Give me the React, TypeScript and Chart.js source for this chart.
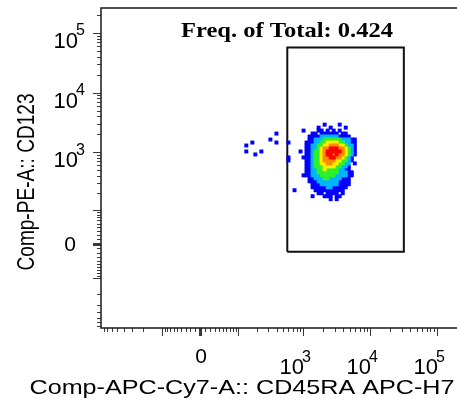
import { useEffect, useRef } from "react";
import { Chart, registerables } from "chart.js";

Chart.register(...registerables);

// Biexponential-style display transform (decades), shared by both axes.
const SCALE_C = 58;
const toDisplay = (v: number) => Math.asinh(v / SCALE_C) / Math.LN10;

const X_TITLE = "Comp-APC-Cy7-A:: CD45RA APC-H7";
const Y_TITLE = "Comp-PE-A:: CD123";
const GATE_LABEL = "Freq. of Total: 0.424";

// Axis ranges in raw fluorescence units
const X_RANGE = [-875, 262144];
const Y_RANGE = [-745, 262144];

// Labelled ticks
const LABEL_TICKS = [0, 1000, 10000, 100000];
const LABEL_BASES = ["0", "10", "10", "10"];
const LABEL_EXPONENTS = ["", "3", "4", "5"];
const LONG_TICKS = [-100, 0, 100, 1000, 10000, 100000];
const MINOR_MULTIPLIERS = [1, 2, 3, 4, 5, 6, 7, 8, 9];
const MINOR_DECADES = [10, 100, 1000, 10000, 100000];

// Rectangle gate, raw units: [xMin, xMax], [yMin, yMax]
const GATE_X = [580, 32000];
const GATE_Y = [-18, 57000];

// Density bins (display units): column i -> x0 + i*dx, row j -> y0 - j*dy
const BIN_X0 = 0.6;
const BIN_DX = 0.045;
const BIN_Y0 = 2.05;
const BIN_DY = 0.05;

// Density levels per bin: b blue, c cyan, g green, y yellow, o orange, r red
const DENSITY_ROWS = [
  "........................................",
  "............................b....b......",
  "..........................b...b....b....",
  ".....................b....bb.b.b.b......",
  "............b...........bb.bbbbbb.bb....",
  ".......................bbbbccccccbbbb...",
  "..........b............bbcccggggggcccbb.",
  "....b.......b...b.....bbbccggyyyyggccbb.",
  "..b...................bbccggyyoooyygccb.",
  "......................bbccgyoorrrooygcb.",
  "..b....b............b.bbcggyorrrrroygcb.",
  ".....b................bbcggyorrorooygcb.",
  "................b....bbbcggyoorrooygcb..",
  "................b.....bbcggyooooyyggcb..",
  "......................bbcggyyooyyggcc.b.",
  "......................bbcgggyyyyggccb...",
  "......................bbccggyggggccbb...",
  "......................bbccgggggggcccbb..",
  ".....................bbbcccgggggccccbb..",
  ".......................bbcccggccccbbb...",
  ".......................bbbcccccccbbbb...",
  "........................bbbccccccbbbb...",
  "........................bbbbbccbbbbb....",
  "..................b......bbbbbbbbbb.....",
  "..........................bb.bbbb.b.....",
  "........................b...bbb.bb......",
  "..............................b.b.......",
];

const LEVELS = ["r", "o", "y", "g", "c", "b"];
const LEVEL_COLORS: Record<string, string> = {
  b: "#0000ff",
  c: "#00b4ff",
  g: "#2cf02c",
  y: "#ffee00",
  o: "#ff8c00",
  r: "#ff0000",
};

function binsFor(level: string) {
  const pts: { x: number; y: number }[] = [];
  DENSITY_ROWS.forEach((row, j) => {
    for (let i = 0; i < row.length; i++) {
      if (row[i] === level) pts.push({ x: BIN_X0 + i * BIN_DX, y: BIN_Y0 - j * BIN_DY });
    }
  });
  return pts;
}

const FONT = "'Liberation Sans', Arial, sans-serif";

// Draws text centred on (cx, cy), squeezed or stretched to a given width.
function fitText(ctx: CanvasRenderingContext2D, text: string, cx: number, cy: number, width: number) {
  const w = ctx.measureText(text).width;
  ctx.save();
  ctx.translate(cx, cy);
  ctx.scale(width / w, 1);
  ctx.textAlign = "center";
  ctx.textBaseline = "middle";
  ctx.fillText(text, 0, 0);
  ctx.restore();
}

const axesPlugin = {
  id: "flowAxes",
  afterDraw(chart: any) {
    const { ctx, chartArea: a, scales } = chart;
    const xs = scales.x;
    const ys = scales.y;
    const dxMin = toDisplay(X_RANGE[0]);
    const dxMax = toDisplay(X_RANGE[1]);
    const dyMin = toDisplay(Y_RANGE[0]);
    const dyMax = toDisplay(Y_RANGE[1]);

    const tickValues: number[] = [];
    for (const d of MINOR_DECADES) for (const m of MINOR_MULTIPLIERS) {
      tickValues.push(d * m, -d * m);
    }
    tickValues.push(0);

    ctx.save();
    // ticks
    ctx.strokeStyle = "#3a3a3a";
    for (const v of tickValues) {
      const t = toDisplay(v);
      const long = LONG_TICKS.includes(v);
      const len = long ? 8 : 4;
      ctx.lineWidth = v === 0 ? 3 : 1;
      if (t >= dxMin && t <= dxMax) {
        const px = Math.round(xs.getPixelForValue(t)) + 0.5;
        ctx.beginPath();
        ctx.moveTo(px, a.bottom);
        ctx.lineTo(px, a.bottom + len);
        ctx.stroke();
      }
      if (t >= dyMin && t <= dyMax) {
        const py = Math.round(ys.getPixelForValue(t)) + 0.5;
        ctx.beginPath();
        ctx.moveTo(a.left, py);
        ctx.lineTo(a.left - len, py);
        ctx.stroke();
      }
    }

    // frame
    ctx.strokeStyle = "#1a1a1a";
    ctx.lineWidth = 1.5;
    ctx.strokeRect(a.left, a.top, a.right - a.left, a.bottom - a.top);

    // tick labels
    ctx.fillStyle = "#000";
    ctx.textBaseline = "top";
    LABEL_TICKS.forEach((v, k) => {
      const t = toDisplay(v);
      const px = xs.getPixelForValue(t);
      const py = ys.getPixelForValue(t);
      const base = LABEL_BASES[k];
      const exp = LABEL_EXPONENTS[k];
      if (!exp) {
        ctx.font = `21px ${FONT}`;
        ctx.textAlign = "center";
        ctx.fillText(base, px + 1, a.bottom + 19);
        ctx.fillText(base, 70, py - 9);
      } else {
        ctx.font = `22px ${FONT}`;
        ctx.textAlign = "right";
        ctx.fillText(base, px + 1, a.bottom + 29);
        ctx.fillText(base, 78, py - 2);
        ctx.font = `16px ${FONT}`;
        ctx.textAlign = "left";
        ctx.fillText(exp, px - 1, a.bottom + 22);
        ctx.fillText(exp, 76, py - 10);
      }
    });

    // axis titles
    ctx.font = `21px ${FONT}`;
    fitText(ctx, X_TITLE, 242, 388, 425);
    ctx.save();
    ctx.translate(28, 182);
    ctx.rotate(-Math.PI / 2);
    ctx.font = `23px ${FONT}`;
    fitText(ctx, Y_TITLE, 0, 0, 177);
    ctx.restore();

    // gate statistic
    ctx.font = `bold 22px 'Liberation Serif', 'Times New Roman', serif`;
    fitText(ctx, GATE_LABEL, 287, 31, 212);
    ctx.restore();
  },
};

export default function App() {
  const ref = useRef<HTMLCanvasElement | null>(null);

  useEffect(() => {
    if (!ref.current) return;
    const gx = GATE_X.map(toDisplay);
    const gy = GATE_Y.map(toDisplay);
    const gate = [
      { x: gx[0], y: gy[0] },
      { x: gx[0], y: gy[1] },
      { x: gx[1], y: gy[1] },
      { x: gx[1], y: gy[0] },
      { x: gx[0], y: gy[0] },
    ];
    const datasets: any[] = LEVELS.map((lv, k) => ({
      label: lv,
      data: binsFor(lv),
      pointStyle: "rect",
      pointRadius: 2.8,
      pointBorderWidth: 0,
      backgroundColor: LEVEL_COLORS[lv],
      borderColor: LEVEL_COLORS[lv],
      order: k + 1,
    }));
    datasets.push({
      label: "gate",
      data: gate,
      showLine: true,
      pointRadius: 0,
      borderColor: "#111",
      borderWidth: 2,
      fill: false,
      order: 20,
    });

    const chart = new Chart(ref.current, {
      type: "scatter",
      data: { datasets },
      options: {
        responsive: false,
        maintainAspectRatio: false,
        animation: false,
        events: [],
        layout: { padding: { left: 101, top: 8, right: 15, bottom: 75 } },
        scales: {
          x: { type: "linear", min: toDisplay(X_RANGE[0]), max: toDisplay(X_RANGE[1]), display: false },
          y: { type: "linear", min: toDisplay(Y_RANGE[0]), max: toDisplay(Y_RANGE[1]), display: false },
        },
        plugins: { legend: { display: false }, tooltip: { enabled: false } },
      },
      plugins: [axesPlugin],
    });
    return () => chart.destroy();
  }, []);

  return (
    <div
      style={{
        position: "fixed",
        left: 0,
        top: 0,
        width: 457,
        height: 403,
        overflow: "hidden",
        background: "#fff",
      }}
    >
      <canvas ref={ref} width={480} height={403} style={{ display: "block" }} />
    </div>
  );
}
